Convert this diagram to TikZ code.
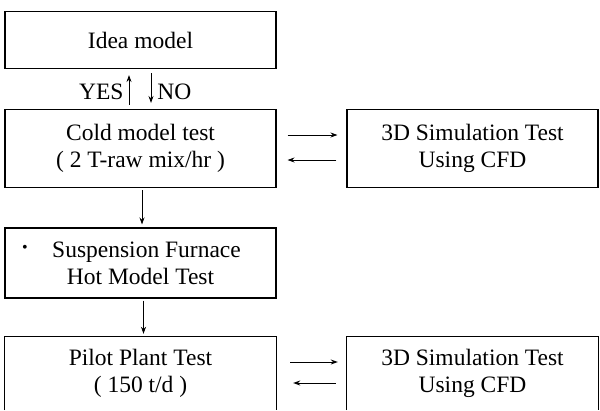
\documentclass[tikz,border=0pt]{standalone}
\usepackage{fontspec}
\setmainfont{Liberation Serif}
\usetikzlibrary{arrows.meta}
\begin{document}
\begin{tikzpicture}[x=1pt,y=-1pt,
  every node/.style={font=\fontsize{23.5}{27}\selectfont, align=center, inner sep=0pt},
  boxnode/.style={draw, line width=1.1pt, minimum width=271pt},
  simnode/.style={draw, line width=1.1pt, minimum width=251pt},
  openbox/.style={line width=1.1pt},
  arr/.style={-{Stealth[length=7pt,width=5pt]}, line width=0.9pt},
  lbl/.style={font=\fontsize{23.5}{27}\selectfont, yshift=-3pt}]
\useasboundingbox (0,0) rectangle (600,410);
\node[boxnode, minimum height=57pt] (idea) at (140.5,40) {Idea model};
\node[boxnode, minimum height=78pt] (cold) at (140.5,148.5) {Cold model test\\( 2 T-raw mix/hr )};
\node[simnode, minimum height=78pt] (sim1) at (472.5,148.5) {3D Simulation Test\\Using CFD};
\node[boxnode, minimum height=70pt] (susp) at (140.5,263) {\hspace*{12pt}Suspension Furnace\\Hot Model Test};
\node (bullet) at (25,249) {\fontsize{16}{16}\selectfont\textbullet};
\node[minimum width=271pt, minimum height=73pt] (pilot) at (140.5,373.5) {Pilot Plant Test\\( 150 t/d )};
\node[minimum width=251pt, minimum height=73pt] (sim2) at (472.5,373.5) {3D Simulation Test\\Using CFD};
\draw[openbox] (pilot.south west) -- (pilot.north west) -- (pilot.north east) -- (pilot.south east);
\draw[openbox] (sim2.south west) -- (sim2.north west) -- (sim2.north east) -- (sim2.south east);
% YES / NO
\draw[arr, shorten <=4pt, shorten >=6pt] ([xshift=-11.5pt]cold.north) -- ([xshift=-11.5pt]idea.south)
  node[midway, left=5pt, lbl] (yes) {YES};
\draw[arr, shorten <=4pt, shorten >=6pt] ([xshift=10.5pt]idea.south) -- ([xshift=10.5pt]cold.north)
  node[midway, right=6pt, lbl] (no) {NO};
% vertical flow
\draw[arr, shorten <=2pt, shorten >=3pt] ([xshift=1.5pt]cold.south) -- ([xshift=1.5pt]susp.north);
\draw[arr, shorten <=2pt, shorten >=3pt] ([xshift=3pt]susp.south) -- ([xshift=3pt]pilot.north);
% horizontal pairs
\draw[arr, shorten <=11pt, shorten >=9pt] ([yshift=13.5pt]cold.east) -- ([yshift=13.5pt]sim1.west);
\draw[arr, shorten <=10pt, shorten >=11pt] ([yshift=-11.5pt]sim1.west) -- ([yshift=-11.5pt]cold.east);
\draw[arr, shorten <=14pt, shorten >=9pt] ([yshift=11.5pt]pilot.east) -- ([yshift=11.5pt]sim2.west);
\draw[arr, shorten <=11pt, shorten >=17pt] ([yshift=-9.5pt]sim2.west) -- ([yshift=-9.5pt]pilot.east);
\end{tikzpicture}
\end{document}
